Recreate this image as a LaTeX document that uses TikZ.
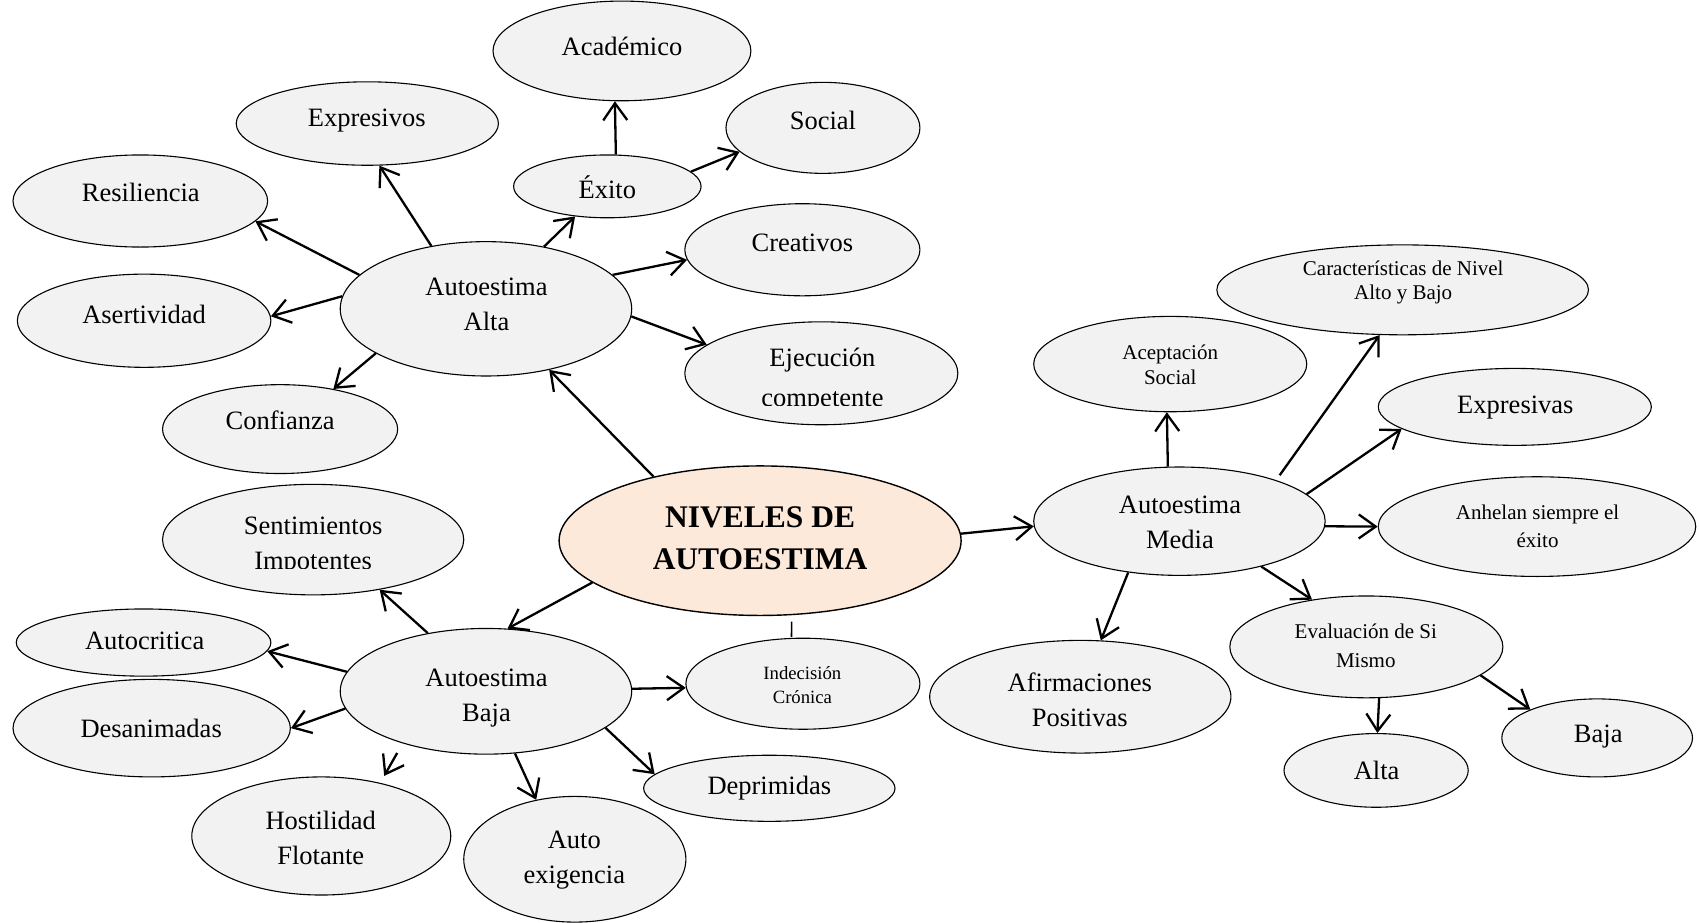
\documentclass[tikz,border=0pt]{standalone}
\usepackage{fontspec}
\setmainfont{Liberation Serif}
\usetikzlibrary{shapes.geometric,arrows.meta}
\definecolor{elfill}{RGB}{242,242,242}
\definecolor{titlefill}{RGB}{252,233,218}
\begin{document}
\begin{tikzpicture}[x=1.0835pt,y=-1.0835pt,
  el/.style 2 args={ellipse, draw, line width=1.1pt, fill=elfill, minimum width=#1*1.0835pt, minimum height=#2*1.0835pt, inner sep=0pt},
  big/.style={font=\fontsize{26.5}{35}\selectfont, align=center, inner sep=0pt},
  small/.style={font=\fontsize{21}{#1}\selectfont, align=center, inner sep=0pt},
  arr/.style={line width=2.3pt, -{Straight Barb[length=17pt,width=24pt]}},
  stub/.style={line width=1.6pt, shorten <=6.5pt, shorten >=1pt}
]
\useasboundingbox (0,0) rectangle (1568,851);

% ---------- ellipses ----------
\node[el={238}{92}] (acad) at (574,47) {};
\node[el={242}{77}] (expos) at (339,114) {};
\node[el={179}{84}] (social) at (759.5,118) {};
\node[el={173}{58}] (exito) at (560.5,172) {};
\node[el={235}{85}] (resil) at (129.5,185.5) {};
\node[el={217}{85}] (creat) at (740.5,230.5) {};
\node[el={269}{124}] (alta) at (448.5,285) {};
\node[el={234}{86}] (asert) at (133,296) {};
\node[el={252}{95}] (ejec) at (758,344.5) {};
\node[el={217}{82}] (conf) at (258.5,396) {};
\node[el={371}{138}, fill=titlefill, line width=1.4pt] (title) at (701.5,499) {};
\node[el={278}{102}] (sent) at (289,498) {};
\node[el={235}{62}] (autoc) at (132.5,593) {};
\node[el={269}{116}] (baja) at (448.5,638) {};
\node[el={256}{90}] (desan) at (140,672) {};
\node[el={216}{84}] (indec) at (741,631) {};
\node[el={232}{61}] (depr) at (710,727.5) {};
\node[el={239}{109}] (host) at (296.5,771.5) {};
\node[el={205}{116}] (autoex) at (530.5,793) {};
\node[el={269}{100}] (media) at (1088.5,481) {};
\node[el={343}{83}] (caract) at (1294.5,267.5) {};
\node[el={252}{88}] (acep) at (1080,336) {};
\node[el={252}{71}] (expas) at (1398,375.5) {};
\node[el={293}{92}] (anh) at (1418.5,486) {};
\node[el={278}{104}] (afirm) at (997,643) {};
\node[el={252}{94}] (eval) at (1261,597) {};
\node[el={170}{68}] (altab) at (1270,711) {};
\node[el={176}{72}] (bajab) at (1474,681) {};

% ---------- texts ----------
\node[big] (acad-t) at (574,43) {Académico};
\node[big] (expos-t) at (338.5,111) {Expresivos};
\node[big] (social-t) at (759.5,111) {Social};
\node[big] (exito-t) at (560.5,173) {Éxito};
\node[big] (resil-t) at (130,178) {Resiliencia};
\node[big] (creat-t) at (740.5,224) {Creativos};
\node[big] (alta-t) at (449,281) {Autoestima\\Alta};
\node[big] (asert-t) at (133,290) {Asertividad};
\begin{scope}
  \clip (600,300) rectangle (900,373.8);
  \node[inner sep=0pt, align=center, font=\fontsize{26.5}{40}\selectfont] (ejec-t) at (759,350.5) {Ejecución\\competente};
\end{scope}
\node[big] (conf-t) at (258.5,388) {Confianza};
\node[inner sep=0pt, align=center, font=\fontsize{31.5}{42}\selectfont\bfseries] (title-t) at (701.5,497) {NIVELES DE\\AUTOESTIMA};
\begin{scope}
  \clip (150,460) rectangle (430,524.2);
  \node[big] (sent-t) at (289,504) {Sentimientos\\Impotentes};
\end{scope}
\node[big] (autoc-t) at (133.5,591) {Autocritica};
\node[big] (baja-t) at (449,644) {Autoestima\\Baja};
\node[big] (desan-t) at (139.5,672) {Desanimadas};
\node[inner sep=0pt, align=center, font=\fontsize{18.7}{24}\selectfont] (indec-t) at (740.5,632) {Indecisión\\Crónica};
\node[big] (depr-t) at (710,727) {Deprimidas};
\node[big] (host-t) at (296,773) {Hostilidad\\Flotante};
\node[big] (autoex-t) at (530,794) {Auto\\exigencia};
\node[big] (media-t) at (1089,482) {Autoestima\\Media};
\node[small=24] (caract-t) at (1295,261) {Características de Nivel\\Alto y Bajo};
\node[small=25] (acep-t) at (1080,337) {Aceptación\\Social};
\node[big] (expas-t) at (1398.5,376) {Expresivas};
\node[small=28] (anh-t) at (1419,486) {Anhelan siempre el\\éxito};
\node[big] (afirm-t) at (996.5,646) {Afirmaciones\\Positivas};
\node[small=29] (eval-t) at (1260.5,596) {Evaluación de Si\\Mismo};
\node[big] (altab-t) at (1270.5,711) {Alta};
\node[big] (bajab-t) at (1475,680) {Baja};

% ---------- connectors ----------
\draw[arr] (alta.165.2) -- (resil.-10.7);
\draw[arr] (alta.131) -- (expos.-74);
\draw[arr] (alta.47.9) -- (exito.223.6);
\draw[arr] (alta.15.9) -- (creat.185.5);
\draw[arr] (alta.-3.4) -- (ejec.166);
\draw[arr] (alta.175.3) -- (asert.2);
\draw[arr] (alta.202) -- (conf.37.8);
\draw[arr] (exito.75.5) -- (acad.262.6);
\draw[arr] (exito.10) -- (social.196.5);
\draw[arr] (title.149) -- (alta.-44.2);
\draw[arr] (title.194.2) -- (baja.71.4);
\draw[arr] (title.2.8) -- (media.182.6);
\draw[stub] (title.-67.3) -- (indec.104.7);
\draw[arr] (baja.135.9) -- (sent.-37.7);
\draw[arr] (baja.172.8) -- (autoc.-4.4);
\draw[arr] (baja.187.7) -- (desan.-0.4);
\draw[arr, shorten <=11pt, shorten >=8pt] (baja.212.7) -- (host.42);
\draw[arr] (baja.-65.9) -- (autoex.123.8);
\draw[arr] (baja.1.3) -- (indec.182.1);
\draw[arr] (baja.-17.5) -- (depr.173.2);
\draw[arr] (media.102.7) -- (acep.266.1);
\draw[arr, shorten <=6pt] (media.23.9) -- (caract.243.7);
\draw[arr] (media.12.3) -- (expas.191.6);
\draw[arr] (media.-2.6) -- (anh.180);
\draw[arr] (media.-29.2) -- (eval.139.3);
\draw[arr] (media.225.3) -- (afirm.70);
\draw[arr] (eval.-76) -- (altab.88.3);
\draw[arr] (eval.-14.9) -- (bajab.157.9);
\end{tikzpicture}
\end{document}
